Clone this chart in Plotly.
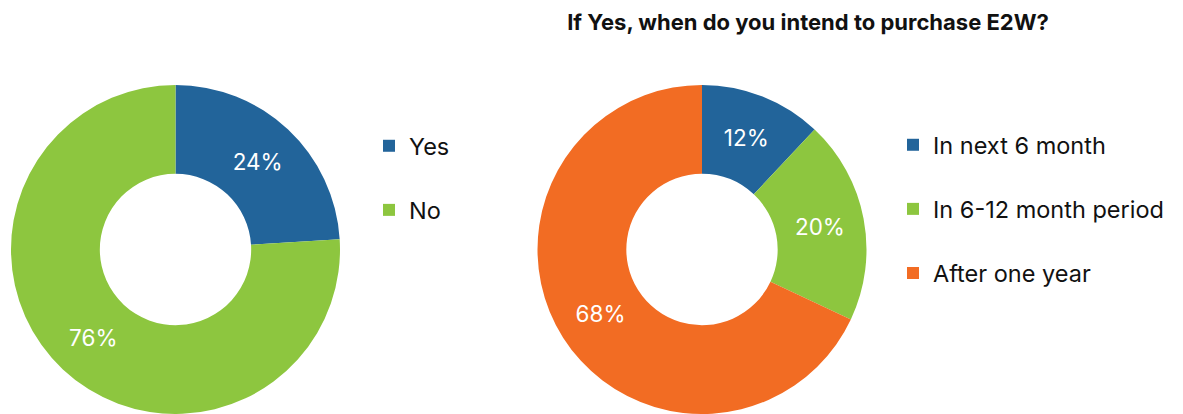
import plotly.graph_objects as go

# page body has an 8px margin; lay the figure out in page coordinates minus that offset
OFF = 8
W, H = 1183 - OFF, 414 - OFF

left_labels = ["Yes", "No"]
left_values = [24, 76]
left_colors = ["#22649A", "#8DC63F"]

right_title = "If Yes, when do you intend to purchase E2W?"
right_labels = ["In next 6 month", "In 6-12 month period", "After one year"]
right_values = [12, 20, 68]
right_colors = ["#22649A", "#8DC63F", "#F26C23"]

FONT = "Inter"

def px_x(x):
    return (x - OFF) / W

def px_y(y):
    return 1 - (y - OFF) / H

def legend_labels(labels):
    return [l + "<br>&nbsp;" for l in labels]

fig = go.Figure()

fig.add_trace(go.Pie(
    labels=legend_labels(left_labels), values=left_values,
    marker=dict(colors=left_colors, line=dict(width=0)),
    hole=0.46, sort=False, direction="clockwise", rotation=0,
    texttemplate="%{value}%",
    textposition="inside", insidetextorientation="horizontal",
    textfont=dict(color="white", size=22.5, family=FONT),
    domain=dict(x=[px_x(11), px_x(340)], y=[0, px_y(85)]),
    legend="legend", hoverinfo="skip",
))

fig.add_trace(go.Pie(
    labels=legend_labels(right_labels), values=right_values,
    marker=dict(colors=right_colors, line=dict(width=0)),
    hole=0.46, sort=False, direction="clockwise", rotation=0,
    texttemplate="%{value}%",
    textposition="inside", insidetextorientation="horizontal",
    textfont=dict(color="white", size=22.5, family=FONT),
    domain=dict(x=[px_x(537), px_x(867)], y=[0, px_y(85)]),
    legend="legend2", hoverinfo="skip",
))

leg_common = dict(font=dict(family=FONT, size=23.5, color="#111111"),
                  valign="top", bgcolor="rgba(0,0,0,0)", xanchor="left", yanchor="top")

fig.update_layout(
    width=W, height=H,
    margin=dict(l=0, r=0, t=0, b=0),
    paper_bgcolor="white", plot_bgcolor="white",
    title=dict(text="<b>" + right_title + "</b>", x=px_x(808), xanchor="center",
               y=px_y(22), yanchor="middle",
               font=dict(family=FONT, size=22, color="#111111")),
    legend=dict(x=px_x(369), y=px_y(124), **leg_common),
    legend2=dict(x=px_x(893), y=px_y(123), **leg_common),
    showlegend=True,
)

fig.write_html("out.html")
